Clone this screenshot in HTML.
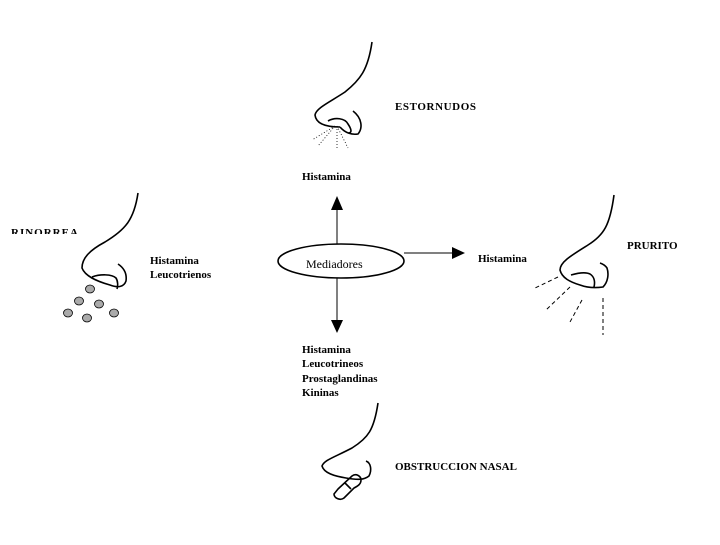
<!DOCTYPE html>
<html><head><style>
body{margin:0;background:#fff}
svg text{font-family:"Liberation Serif",serif;font-weight:bold;font-size:11px;fill:#000}
</style></head><body>
<svg width="720" height="540" viewBox="0 0 720 540" xmlns="http://www.w3.org/2000/svg">
<g fill="none" stroke="#000" stroke-width="1.6">
<path d="M372,42 C368,70 360,80 345,92 C330,102 316,108 315,115 C316,124 326,127 340,127 M328,121 C335,117 345,118 348,124 C352,130 352,133 348,133 M340,127 C345,133 352,135 358,134 C363,128 362,118 353,111"/>
<path d="M138,193 C134,220 125,230 105,242 C90,250 82,258 82,268 C85,276 96,281 110,285 C118,288 124,287 126,281 C127,274 124,268 118,264 M92,277 C100,274 112,274 116,278 C118,281 118,286 117,289"/>
<path d="M614,195 C610,225 604,235 588,245 C572,255 560,262 560,270 C562,278 570,282 580,285 C588,288 596,288 603,287 C608,282 609,274 607,268 C605,265 603,264 600,263 M571,275 C578,273 586,272 590,274 C595,277 595,283 594,287"/>
<path d="M378,403 C374,430 368,438 352,448 C335,457 324,460 322,466 C324,473 334,476 346,478 C358,480 364,480 369,476 C372,470 371,463 366,461"/>
<path d="M338,489 L352,476 C356,473 361,476 361,480 C361,484 358,486 354,488 L344,498 C340,501 334,498 334,494 Z M345,483 L351,489"/>
<line x1="337" y1="244" x2="337" y2="205" stroke-width="1"/>
<line x1="337" y1="278" x2="337" y2="322" stroke-width="1"/>
<line x1="404" y1="253" x2="455" y2="253" stroke-width="1"/>
</g>
<polygon points="337,196 331,210 343,210" fill="#000"/>
<polygon points="337,333 331,320 343,320" fill="#000"/>
<polygon points="465,253 452,247 452,259" fill="#000"/>
<g stroke="#000" stroke-width="0.8" stroke-dasharray="1,2" fill="none">
<path d="M335,126 L312,140 M335,126 L318,146 M337,126 L337,149 M337,126 L348,148"/>
</g>
<g stroke="#000" stroke-width="1" stroke-dasharray="4,3" fill="none">
<path d="M558,277 L535,288 M570,287 L546,310 M582,300 L570,322 M603,298 L603,335"/>
</g>
<g fill="#aaa" stroke="#000" stroke-width="0.8">
<ellipse cx="90" cy="289" rx="4.5" ry="4"/>
<ellipse cx="79" cy="301" rx="4.5" ry="4"/>
<ellipse cx="99" cy="304" rx="4.5" ry="4"/>
<ellipse cx="68" cy="313" rx="4.5" ry="4"/>
<ellipse cx="87" cy="318" rx="4.5" ry="4"/>
<ellipse cx="114" cy="313" rx="4.5" ry="4"/>
</g>
<text x="395" y="110" letter-spacing="0.6">ESTORNUDOS</text>
<text x="302" y="180">Histamina</text>
<text x="11" y="236" letter-spacing="1">RINORREA</text>
<rect x="0" y="234" width="90" height="10" fill="#fff"/>
<text x="306" y="268" style="font-weight:normal;font-size:12px">Mediadores</text>
<ellipse cx="341" cy="261" rx="63" ry="17" fill="none" stroke="#000" stroke-width="1.6"/>
<text x="150" y="264">Histamina</text>
<text x="150" y="278">Leucotrienos</text>
<text x="478" y="262">Histamina</text>
<text x="627" y="249">PRURITO</text>
<text x="302" y="353">Histamina</text>
<text x="302" y="367">Leucotrineos</text>
<text x="302" y="382">Prostaglandinas</text>
<text x="302" y="396">Kininas</text>
<text x="395" y="470">OBSTRUCCION NASAL</text>
</svg>
</body></html>
